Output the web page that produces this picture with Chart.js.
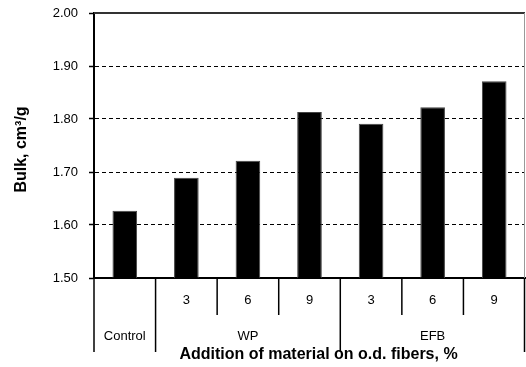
<!DOCTYPE html>
<html>
<head>
<meta charset="utf-8">
<script src="https://cdn.jsdelivr.net/npm/chart.js@4.4.1/dist/chart.umd.min.js"></script>
<style>
  html, body { margin: 0; padding: 0; background: #fff; }
  #wrap { width: 526px; height: 367px; }
</style>
</head>
<body>
<div id="wrap"><canvas id="bulkChart" width="526" height="367"></canvas></div>
<script>
// data
const cells = ['Control', 'WP 3', 'WP 6', 'WP 9', 'EFB 3', 'EFB 6', 'EFB 9'];
const subLabels = ['', '3', '6', '9', '3', '6', '9'];
const groups = ['Control', 'WP', 'EFB'];
const groupSpans = [1, 3, 3];
const bulk = [1.627, 1.689, 1.721, 1.813, 1.791, 1.822, 1.871];
const yMin = 1.5, yMax = 2.0, yStep = 0.1;

const FONT = "'Liberation Sans', Arial, sans-serif";

const groupAxis = {
    id: 'groupAxis',
    afterDraw(chart) {
        const { ctx, chartArea: a, scales: { x } } = chart;
        const half = (x.getPixelForValue(1) - x.getPixelForValue(0)) / 2;
        ctx.save();

        // solid line at the top of the plot and thin right border
        ctx.strokeStyle = '#333';
        ctx.lineWidth = 2;
        ctx.beginPath();
        ctx.moveTo(a.left, a.top);
        ctx.lineTo(a.right, a.top);
        ctx.stroke();
        ctx.strokeStyle = '#999';
        ctx.lineWidth = 1;
        ctx.beginPath();
        ctx.moveTo(a.right - 0.5, a.top);
        ctx.lineTo(a.right - 0.5, a.bottom);
        ctx.stroke();

        // separators under the axis
        const bounds = [0];
        groupSpans.forEach(s => bounds.push(bounds[bounds.length - 1] + s));
        ctx.strokeStyle = '#000';
        ctx.lineWidth = 1.5;
        for (let i = 0; i <= cells.length; i++) {
            let px = x.getPixelForValue(i) - half;
            if (i === cells.length) px = Math.min(px, a.right - 0.5);
            const long = bounds.includes(i);
            ctx.beginPath();
            ctx.moveTo(px, a.bottom);
            ctx.lineTo(px, long ? a.bottom + 74 : a.bottom + 37);
            ctx.stroke();
        }

        // group labels
        ctx.fillStyle = '#000';
        ctx.font = '13px ' + FONT;
        ctx.textAlign = 'center';
        ctx.textBaseline = 'middle';
        groups.forEach((g, k) => {
            const l = x.getPixelForValue(bounds[k]) - half;
            const r = x.getPixelForValue(bounds[k + 1] - 1) + half;
            ctx.fillText(g, (l + r) / 2, a.bottom + 58);
        });

        // axis titles
        ctx.font = 'bold 16px ' + FONT;
        ctx.fillText('Addition of material on o.d. fibers, %', (a.left + a.right) / 2 + 9, a.bottom + 77);
        ctx.translate(22, (a.top + a.bottom) / 2 + 4);
        ctx.rotate(-Math.PI / 2);
        ctx.fillText('Bulk, cm³/g', 0, 0);
        ctx.restore();
    }
};

new Chart(document.getElementById('bulkChart'), {
    type: 'bar',
    data: {
        labels: cells,
        datasets: [{
            label: 'Bulk',
            data: bulk,
            backgroundColor: '#000',
            borderColor: '#444',
            borderWidth: 1,
            barPercentage: 0.4,
            categoryPercentage: 1.0
        }]
    },
    options: {
        responsive: false,
        animation: false,
        layout: { padding: { top: 13, right: 1, left: 0, bottom: 0 } },
        plugins: { legend: { display: false }, tooltip: { enabled: false } },
        scales: {
            x: {
                grid: { display: false, drawTicks: false },
                border: { display: true, color: '#000', width: 2 },
                ticks: {
                    color: '#000',
                    font: { family: FONT, size: 13 },
                    padding: 15,
                    maxRotation: 0,
                    autoSkip: false,
                    callback: (v, i) => subLabels[i]
                },
                afterFit: s => { s.height = 89; }
            },
            y: {
                min: yMin,
                max: yMax,
                ticks: {
                    stepSize: yStep,
                    color: '#000',
                    padding: 11,
                    font: { family: FONT, size: 13 },
                    callback: v => v.toFixed(2)
                },
                grid: {
                    color: c => (c.tick && (Math.abs(c.tick.value - yMin) < 1e-6 || Math.abs(c.tick.value - yMax) < 1e-6)) ? 'rgba(0,0,0,0)' : '#000',
                    lineWidth: 1,
                    tickLength: 5,
                    tickColor: '#000',
                    tickWidth: 1.5
                },
                border: { display: true, color: '#000', width: 2, dash: [4, 3] },
                afterFit: s => { s.width = 94; s.paddingTop = 0; s.paddingBottom = 0; }
            }
        }
    },
    plugins: [groupAxis]
});
</script>
</body>
</html>
